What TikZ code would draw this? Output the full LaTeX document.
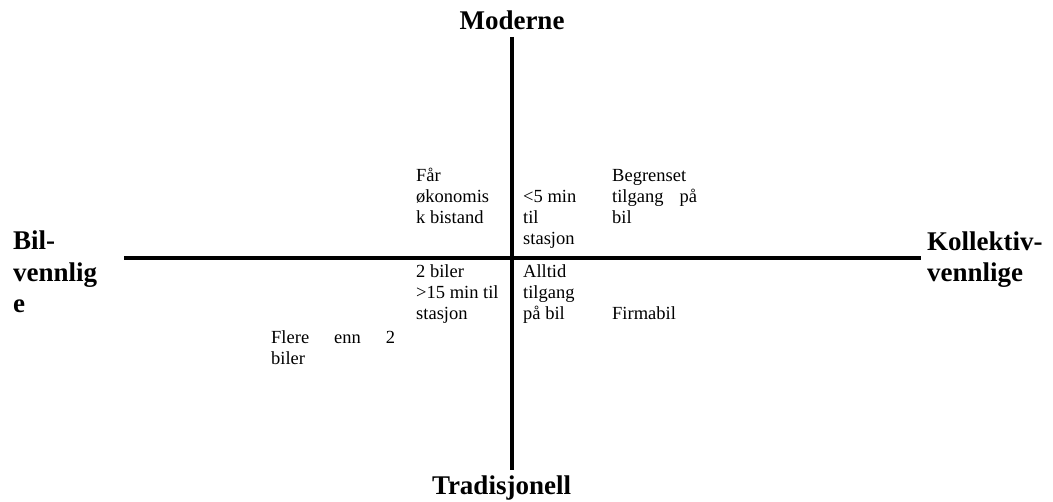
\documentclass[tikz,border=0pt]{standalone}
\usepackage{fontspec}
\setmainfont{Liberation Serif}
\begin{document}
\begin{tikzpicture}[x=1pt,y=-1pt,
  axis/.style={line width=4pt,black},
  cell/.style={anchor=base west,inner sep=0pt,align=left,
    font=\fontsize{18.5}{21}\selectfont},
  pole/.style={inner sep=0pt,font=\fontsize{27}{31.5}\selectfont\bfseries}]
  \useasboundingbox (0,0) rectangle (1053,502);
  % axes
  \coordinate (top) at (512,37);
  \coordinate (bottom) at (512,470);
  \coordinate (left) at (124,258);
  \coordinate (right) at (921,258);
  \draw[axis] (top) -- (bottom);
  \draw[axis] (left) -- (right);
  % pole labels (multi-line nodes sit on the baseline of their last line)
  \node[pole,anchor=base] (mod) at (512,30) {Moderne};
  \node[pole,anchor=base] (trad) at (501.5,495) {Tradisjonell};
  \node[pole,anchor=base west,align=left] (bil) at (13,313) {Bil-\\vennlig\\e};
  \node[pole,anchor=base west,align=left] (kol) at (927,282) {Kollektiv-\\vennlige};
  % upper quadrants
  \node[cell] (faar) at (416,224) {Får\\økonomis\\k bistand};
  \node[cell] (fem) at (523,245) {<5 min\\til\\stasjon};
  \node[cell] (begr) at (612,224) {Begrenset\\\makebox[85pt][s]{tilgang på}\\bil};
  % lower quadrants
  \node[cell] (tobil) at (416,320) {2 biler\\>15 min til\\stasjon};
  \node[cell] (alltid) at (523,320) {Alltid\\tilgang\\på bil};
  \node[cell] (firma) at (612,320) {Firmabil};
  \node[cell] (flere) at (271,365) {\makebox[124pt][s]{Flere enn 2}\\biler};
\end{tikzpicture}
\end{document}
